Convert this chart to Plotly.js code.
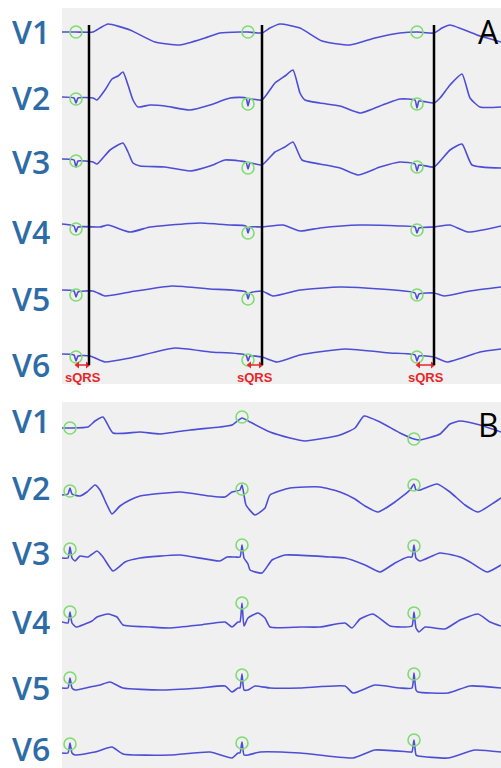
<!DOCTYPE html>
<html><head><meta charset="utf-8">
<script src="https://cdn.plot.ly/plotly-3.0.1.min.js"></script>
<style>html,body{margin:0;padding:0;background:#fff}#chart{width:501px;height:768px}</style>
</head><body><div id="chart"></div>
<script>
const leads = ['V1','V2','V3','V4','V5','V6'];
// Panel A waveforms: [sample index (250 Hz), amplitude (mV)]
const A_V1 = [[0,0],[14,0],[31,0],[38,0.2],[46,0.4],[68,0.1],[93,-0.5],[118,-0.65],[143,-0.3],[158,-0.05],[178,0],[186,0],[200,-0.05],[208,0.2],[218,0.4],[238,0.2],[260,-0.45],[288,-0.65],[313,-0.3],[338,-0.05],[355,0],[372,-0.05],[380,0.2],[388,0.35],[418,-0.2],[439,-0.5]];
const A_V2 = [[0,0.05],[12,0],[14,-0.25],[16,0],[31,0],[35,-0.1],[43,0.4],[50,0.95],[56,1.1],[61,1.3],[66,0.65],[71,-0.1],[76,-0.45],[88,-0.35],[103,-0.4],[128,-0.6],[148,-0.35],[168,0],[184,0],[186,-0.4],[188,-0.05],[200,-0.1],[213,0.75],[223,1.1],[231,1.4],[238,0.25],[243,-0.1],[258,-0.25],[278,-0.4],[298,-0.75],[323,-0.3],[338,-0.05],[353,-0.1],[355,-0.5],[357,-0.15],[372,-0.25],[378,0],[388,0.65],[400,1.2],[408,0],[418,-0.45],[439,-0.45]];
const A_V3 = [[0,0.1],[12,0.05],[14,-0.3],[16,0],[31,-0.05],[35,-0.15],[48,0.55],[61,0.9],[66,0.45],[71,-0.1],[78,-0.25],[103,-0.3],[128,-0.5],[148,-0.25],[163,0.05],[178,0],[184,-0.05],[186,-0.4],[188,-0.1],[200,-0.2],[213,0.45],[223,0.7],[231,0.95],[240,0.05],[258,-0.15],[278,-0.35],[296,-0.7],[318,-0.3],[338,-0.05],[353,-0.15],[355,-0.5],[357,-0.2],[372,-0.3],[388,0.55],[400,0.85],[410,-0.2],[439,-0.35]];
const A_V4 = [[0,0.05],[12,-0.05],[14,-0.35],[16,-0.1],[38,-0.1],[46,0],[68,-0.35],[88,-0.1],[108,0],[138,0.1],[168,0],[184,-0.05],[186,-0.4],[188,-0.1],[200,-0.1],[221,0],[238,-0.3],[258,-0.15],[298,0],[338,-0.05],[353,-0.1],[355,-0.4],[357,-0.15],[372,-0.1],[388,0],[406,-0.35],[439,-0.05]];
const A_V5 = [[0,0],[12,-0.05],[14,-0.35],[16,-0.1],[31,-0.05],[43,-0.3],[68,-0.1],[110,0.2],[148,0.05],[184,-0.1],[186,-0.45],[188,-0.15],[200,-0.05],[211,-0.3],[238,0],[278,0.15],[318,0.05],[353,-0.15],[355,-0.45],[357,-0.2],[372,-0.15],[382,-0.3],[408,-0.05],[439,0.15]];
const A_V6 = [[0,0],[12,-0.05],[14,-0.35],[16,-0.1],[28,-0.1],[43,-0.4],[68,-0.2],[113,0.3],[148,0.1],[184,-0.05],[186,-0.35],[188,-0.1],[200,-0.15],[215,-0.4],[238,-0.05],[283,0.25],[328,0.05],[353,-0.05],[355,-0.35],[357,-0.1],[372,-0.15],[385,-0.4],[418,0.1],[439,0.25]];
// Panel B waveforms
const B_V1 = [[0,0],[8,0],[26,0.05],[33,0.35],[41,0.55],[51,-0.25],[78,-0.2],[98,-0.3],[128,-0.1],[158,0.05],[170,0.15],[180,0.5],[188,0.3],[208,-0.2],[228,-0.5],[243,-0.65],[278,-0.35],[293,0],[302,0.6],[318,0.3],[338,-0.25],[352,-0.55],[358,-0.6],[378,-0.3],[388,0.2],[398,0.35],[418,0.15],[439,-0.2]];
const B_V2 = [[0,0],[6,0.05],[8,0.35],[10,0.05],[18,-0.05],[25,0.15],[33,0.5],[38,0.25],[45,-0.5],[50,-0.95],[58,-0.55],[68,-0.25],[78,-0.05],[118,0.15],[148,-0.05],[163,-0.1],[170,0.15],[178,0.25],[180,0.5],[182,0],[184,-0.5],[193,-1.0],[203,-0.65],[208,0],[228,0.35],[258,0.4],[278,0.15],[293,-0.2],[303,-0.55],[316,-0.85],[333,-0.35],[348,0.25],[352,0.55],[354,0.25],[358,0.25],[375,0.55],[388,0.15],[403,-0.5],[416,-0.85],[433,-0.35],[439,-0.15]];
const B_V3 = [[0,0],[6,0],[8,0.55],[10,0],[13,-0.15],[18,0.1],[26,0.05],[35,0.35],[41,0.05],[51,-0.65],[63,-0.2],[78,0],[118,0.15],[158,-0.15],[165,0.05],[173,0.05],[178,0.05],[180,0.65],[182,0],[186,-0.3],[188,-0.6],[200,-0.75],[210,-0.1],[223,0.15],[268,0.05],[283,0],[303,-0.35],[318,-0.7],[333,-0.25],[346,0.05],[350,0.05],[352,0.65],[354,0],[358,-0.15],[378,0.25],[398,0.05],[408,-0.2],[425,-0.7],[439,-0.35]];
const B_V4 = [[0,0.05],[6,0],[8,0.55],[10,0],[14,-0.2],[23,-0.05],[30,0.1],[35,0.3],[46,0.45],[55,0.3],[61,-0.1],[88,-0.2],[108,-0.25],[138,-0.1],[163,0.05],[170,-0.2],[176,0.05],[178,0.05],[180,1.0],[182,-0.15],[186,0.25],[196,0.5],[203,0.25],[208,-0.2],[238,-0.2],[258,-0.2],[283,0],[290,-0.25],[298,0.2],[311,0.45],[328,-0.15],[343,-0.2],[350,-0.15],[352,0.55],[354,-0.25],[357,-0.45],[363,-0.2],[383,-0.3],[398,0.15],[416,0.45],[428,0.05],[439,-0.15]];
const B_V5 = [[0,0],[6,0],[8,0.5],[10,0],[13,-0.1],[28,0.05],[38,0.15],[48,0.3],[61,0],[98,-0.1],[138,0],[163,0.1],[170,-0.2],[176,0],[178,0],[180,0.7],[182,-0.1],[186,-0.1],[193,0.1],[208,0],[238,0],[283,0.1],[291,-0.25],[313,0.15],[338,0],[350,0],[352,0.75],[354,-0.1],[356,-0.2],[386,-0.25],[408,0.1],[439,0]];
const B_V6 = [[0,0],[6,0],[8,0.5],[10,0],[13,-0.1],[33,0.05],[50,0.3],[61,-0.05],[108,-0.1],[148,0.05],[170,-0.25],[176,0],[178,0],[180,0.55],[182,-0.1],[186,-0.1],[198,0.05],[238,0],[291,-0.25],[313,0.15],[348,0.05],[350,0.05],[352,0.65],[354,-0.1],[356,-0.15],[386,-0.25],[413,0.15],[439,0.05]];
// detected points (green circles) and QRS end (black lines)
const onsetA = [14,186,355];
const qrsEndA = [27,200,372];
const onsetB = [8,180,352];
const markA = [[0,0,0],[-0.05,-0.3,-0.3],[0,-0.35,-0.3],[-0.2,-0.4,-0.25],[-0.25,-0.45,-0.25],[-0.15,-0.3,-0.15]];
const markB = [[0,0.55,-0.55],[0.2,0.3,0.5],[0.45,0.65,0.6],[0.55,1.0,0.5],[0.5,0.65,0.7],[0.45,0.5,0.65]];

// layout (stacking of leads)
const baseA = [-1.2,-4.5,-7.65,-10.85,-14.1,-17.3];
const baseB = [-1.3,-4.65,-7.8,-11.05,-14.3,-17.55];
const labelYA = [31,97,161,231,298,364];
const labelYB = [420,487,552,621,687,748];
const W = 501, H = 768;
const ecgColor = '#4d4dd6';
const greenC = '#7fdc72';
const labelColor = '#2e6ca6';
const red = '#e8262a';

const dataA = [A_V1,A_V2,A_V3,A_V4,A_V5,A_V6];
const dataB = [B_V1,B_V2,B_V3,B_V4,B_V5,B_V6];
const traces = [];
const ln = {color:ecgColor,width:1.6,shape:'spline',smoothing:0.5};
dataA.forEach((pts,i)=>traces.push({type:'scatter',mode:'lines',x:pts.map(p=>p[0]),y:pts.map(p=>p[1]+baseA[i]),xaxis:'x',yaxis:'y',line:ln,hoverinfo:'skip',showlegend:false}));
dataB.forEach((pts,i)=>traces.push({type:'scatter',mode:'lines',x:pts.map(p=>p[0]),y:pts.map(p=>p[1]+baseB[i]),xaxis:'x2',yaxis:'y2',line:ln,hoverinfo:'skip',showlegend:false}));
markA.forEach((m,i)=>traces.push({type:'scatter',mode:'markers',x:onsetA,y:m.map(v=>v+baseA[i]),xaxis:'x',yaxis:'y',marker:{symbol:'circle-open',size:12,color:greenC,line:{width:1.6}},hoverinfo:'skip',showlegend:false}));
markB.forEach((m,i)=>traces.push({type:'scatter',mode:'markers',x:onsetB,y:m.map(v=>v+baseB[i]),xaxis:'x2',yaxis:'y2',marker:{symbol:'circle-open',size:12,color:greenC,line:{width:1.6}},hoverinfo:'skip',showlegend:false}));
// sQRS double arrows
onsetA.forEach((t,k)=>traces.push({type:'scatter',mode:'lines+markers',x:[t+1.5,qrsEndA[k]-1.5],y:[-17.85,-17.85],xaxis:'x',yaxis:'y',line:{color:red,width:1.5},marker:{symbol:['triangle-left','triangle-right'],size:6,color:red},hoverinfo:'skip',showlegend:false}));

const shapes = qrsEndA.map(t=>({type:'line',xref:'x',yref:'y',x0:t,x1:t,y0:-0.85,y1:-17.85,line:{color:'#000',width:2.5}}));
const annotations = [];
const lf = {family:'Open Sans, sans-serif',size:32,color:labelColor,weight:600};
leads.forEach((l,i)=>{
  annotations.push({text:l,xref:'paper',yref:'paper',x:31/W,y:1-labelYA[i]/H,xanchor:'center',yanchor:'middle',height:32,showarrow:false,font:lf});
  annotations.push({text:l,xref:'paper',yref:'paper',x:31/W,y:1-labelYB[i]/H,xanchor:'center',yanchor:'middle',height:32,showarrow:false,font:lf});
});
annotations.push({text:'A',xref:'paper',yref:'paper',x:1,y:1-31/H,xanchor:'right',yanchor:'middle',showarrow:false,font:{family:'Open Sans, sans-serif',size:32,color:'#000'}});
annotations.push({text:'B',xref:'paper',yref:'paper',x:1,y:1-424/H,xanchor:'right',yanchor:'middle',showarrow:false,font:{family:'Open Sans, sans-serif',size:32,color:'#000'}});
onsetA.forEach((t,k)=>{
  annotations.push({text:'sQRS',x:(t+qrsEndA[k])/2,y:-18.45,xref:'x',yref:'y',showarrow:false,xanchor:'center',yanchor:'middle',font:{family:'Liberation Sans, Arial, sans-serif',size:13,color:red,weight:'bold'}});
});

const ax = {showgrid:false,zeroline:false,showticklabels:false,ticks:'',showline:false,fixedrange:true};
const layout = {
  width:W,height:H,margin:{l:0,r:0,t:0,b:0},paper_bgcolor:'#ffffff',plot_bgcolor:'#f0f0f0',
  xaxis:Object.assign({domain:[62/W,1],range:[0,439],anchor:'y'},ax),
  yaxis:Object.assign({domain:[1-384/H,1-8/H],range:[-18.8,0],anchor:'x'},ax),
  xaxis2:Object.assign({domain:[62/W,1],range:[0,439],anchor:'y2'},ax),
  yaxis2:Object.assign({domain:[0,1-402/H],range:[-18.3,0],anchor:'x2'},ax),
  shapes:shapes,annotations:annotations,showlegend:false
};
Plotly.newPlot('chart',traces,layout,{staticPlot:true,displayModeBar:false});
</script></body></html>
